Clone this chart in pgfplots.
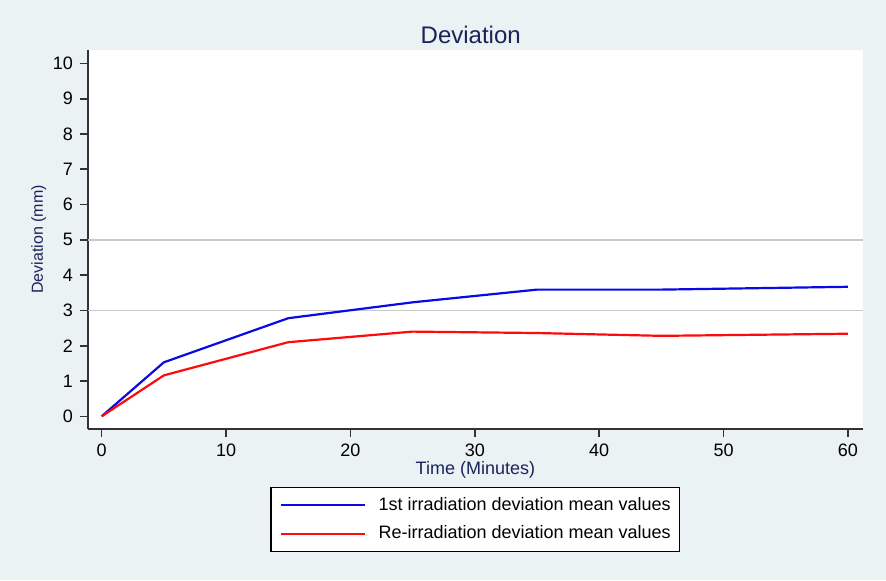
\documentclass[border=0pt]{standalone}
\usepackage{pgfplots}
\pgfplotsset{compat=1.18}
\usepackage{fontspec}
\setmainfont{Liberation Sans}
\definecolor{bg}{RGB}{234,242,243}
\definecolor{navy}{RGB}{26,36,90}
\definecolor{gridc}{RGB}{200,200,200}
\definecolor{sblue}{RGB}{10,10,230}
\definecolor{sred}{RGB}{255,10,10}
\begin{document}
\begin{tikzpicture}
\fill[bg] (-44pt,-75.5pt) rectangle (399pt,214.5pt);
\begin{axis}[
  at={(0,0)}, anchor=south west,
  scale only axis, width=387.4pt, height=189.5pt,
  xmin=-1.1, xmax=61.2, ymin=-0.36, ymax=10.38,
  axis x line=bottom, axis y line=left,
  axis line style={-, line width=0.8pt, color=black!80},
  axis background/.style={fill=white},
  xtick={0,10,...,60}, ytick={0,1,...,10},
  tick align=outside, major tick length=4pt,
  tick style={line width=0.8pt, color=black!80},
  extra y ticks={3,5}, extra y tick labels={},
  extra y tick style={grid=major, major grid style={gridc, line width=0.9pt}, major tick length=0pt},
  /pgf/number format/assume math mode=true,
  ticklabel style={font=\fontsize{9}{10}\selectfont},
  title={Deviation},
  every axis title shift=0pt,
  title style={font=\fontsize{12}{14}\selectfont, color=navy, at={(axis description cs:0.494,1.0169)}, anchor=base},
  xlabel={Time (Minutes)},
  xlabel style={font=\fontsize{9}{10}\selectfont, color=navy, at={(axis description cs:0.5,-0.1198)}, anchor=base},
  ylabel={Deviation (mm)},
  ylabel style={font=\fontsize{8}{10}\selectfont, color=navy, at={(axis description cs:-0.0583,0.5)}, anchor=base},
  legend style={at={(axis description cs:0.5,-0.152)}, anchor=north, draw=black, line width=0.6pt, fill=white,
    inner xsep=4.5pt, inner ysep=4.5pt, row sep=5.3pt, column sep=6.2pt,
    font=\fontsize{9}{10}\selectfont,
    nodes={inner sep=0pt, text height=7pt, text depth=2pt}},
  legend cell align=left,
  legend image code/.code={\draw[#1] (0pt,0pt) -- (42pt,0pt);},
]
\addplot[sblue, line width=1.1pt] coordinates {(0,0) (5,1.53) (15,2.78) (25,3.23) (35,3.59) (45,3.59) (60,3.67)};
\addlegendentry{1st irradiation deviation mean values}
\addplot[sred, line width=1.1pt] coordinates {(0,0) (5,1.16) (15,2.10) (25,2.40) (35,2.36) (45,2.28) (60,2.34)};
\addlegendentry{Re-irradiation deviation mean values}
\end{axis}
\pgfresetboundingbox
\useasboundingbox (-44pt,-75.5pt) rectangle (399pt,214.5pt);
\end{tikzpicture}
\end{document}
